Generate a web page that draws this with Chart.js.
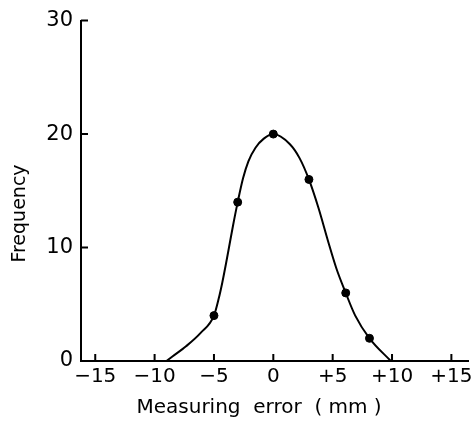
<!DOCTYPE html>
<html>
<head>
<meta charset="utf-8">
<script src="https://cdn.jsdelivr.net/npm/chart.js@4/dist/chart.umd.min.js"></script>
<style>
body { margin: 0; background: #fff; }
#wrap { width: 473px; height: 423px; }
</style>
</head>
<body>
<div id="wrap"><canvas id="errorChart" width="473" height="423"></canvas></div>
<script>
// measured points
var pointX = [-5, -3, 0, 3, 6.1, 8.1];
var pointY = [4, 14, 20, 16, 6, 2];

// hand drawn curve
var curveX = [-9, -8.5, -7.35, -6.1, -5, -4.6, -4.3, -4.0, -3.7, -3.4, -3, -2.55, -2.1, -1.5, -0.8, 0, 1.4, 2.2, 3, 3.8, 4.6, 5.3, 6.1, 6.9, 8.1, 9.9];
var curveY = [0, 0.4, 1.3, 2.5, 4, 5.5, 6.9, 8.5, 10.2, 11.9, 14, 16.1, 17.6, 18.8, 19.6, 20, 19.1, 17.9, 16, 13.5, 10.6, 8.2, 6, 4, 2, 0];

var xTicks = [-15, -10, -5, 0, 5, 10, 15];
var xTickLabels = ['\u221215', '\u221210', '\u22125', '0', '+5', '+10', '+15'];
var yTicks = [0, 10, 20, 30];

var xTitle = 'Measuring  error  ( mm )';
var yTitle = 'Frequency';

function toXY(xs, ys) {
  var out = [];
  for (var i = 0; i < xs.length; i++) out.push({x: xs[i], y: ys[i]});
  return out;
}

var font = "'DejaVu Sans', sans-serif";

// ticks drawn inward and axis titles placed like the original
var decor = {
  id: 'decor',
  afterDraw: function(chart) {
    var ctx = chart.ctx;
    var xs = chart.scales.x, ys = chart.scales.y;
    ctx.save();
    ctx.strokeStyle = '#000';
    ctx.lineWidth = 2;
    ctx.beginPath();
    xTicks.forEach(function(v) {
      var px = xs.getPixelForValue(v);
      ctx.moveTo(px, xs.top);
      ctx.lineTo(px, xs.top - 7);
    });
    yTicks.forEach(function(v) {
      var py = ys.getPixelForValue(v);
      ctx.moveTo(ys.right, py);
      ctx.lineTo(ys.right + 7, py);
    });
    ctx.stroke();

    ctx.fillStyle = '#000';
    ctx.font = '20px ' + font;
    ctx.textAlign = 'center';
    ctx.textBaseline = 'middle';
    ctx.fillText(xTitle, xs.getPixelForValue(-1.2), xs.top + 47);

    ctx.translate(20, ys.getPixelForValue(13));
    ctx.rotate(-Math.PI / 2);
    ctx.font = '19px ' + font;
    ctx.fillText(yTitle, 0, 0);
    ctx.restore();
  }
};

var context = document.getElementById('errorChart').getContext('2d');
var chart = new Chart(context, {
  type: 'scatter',
  data: {
    datasets: [
      {
        label: 'curve',
        data: toXY(curveX, curveY),
        showLine: true,
        borderColor: '#000',
        borderWidth: 2,
        pointRadius: 0,
        cubicInterpolationMode: 'monotone'
      },
      {
        label: 'measured',
        data: toXY(pointX, pointY),
        backgroundColor: '#000',
        borderColor: '#000',
        pointRadius: 4
      }
    ]
  },
  options: {
    responsive: false,
    animation: false,
    layout: { padding: { top: 19, right: 0 } },
    plugins: { legend: { display: false }, tooltip: { enabled: false } },
    scales: {
      x: {
        type: 'linear',
        min: -16.2,
        max: 16.4,
        afterBuildTicks: function(scale) {
          scale.ticks = xTicks.map(function(v) { return {value: v}; });
        },
        afterFit: function(scale) {
          scale.height = 62;
          scale.paddingRight = 0;
          scale.paddingLeft = 0;
        },
        ticks: {
          color: '#000',
          font: { family: font, size: 20 },
          padding: 4,
          maxRotation: 0,
          callback: function(v) { return xTickLabels[xTicks.indexOf(v)]; }
        },
        grid: { display: false, drawTicks: false },
        border: { color: '#000', width: 2 }
      },
      y: {
        min: 0,
        max: 30,
        afterBuildTicks: function(scale) {
          scale.ticks = yTicks.map(function(v) { return {value: v}; });
        },
        afterFit: function(scale) { scale.width = 81; },
        ticks: {
          color: '#000',
          font: { family: font, size: 21 },
          padding: 8
        },
        grid: { display: false, drawTicks: false },
        border: { color: '#000', width: 2 }
      }
    }
  },
  plugins: [decor]
});
</script>
</body>
</html>
